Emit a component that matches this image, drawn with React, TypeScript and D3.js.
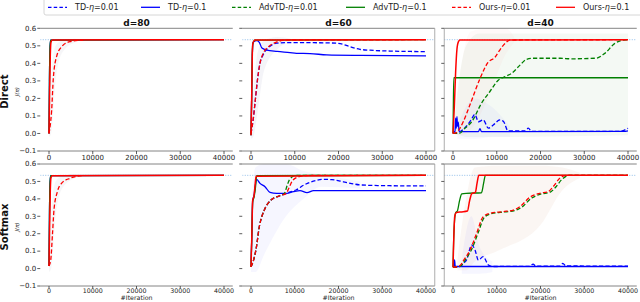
import React from 'react';
import * as d3 from 'd3';

type Pt = [number, number];
type Band = [number, number, number];

// ---------- data ----------
const xTicks = [0, 10000, 20000, 30000, 40000];
const yTicks = [-0.1, 0.0, 0.1, 0.2, 0.3, 0.4, 0.5, 0.6];
const titles = ['d=80', 'd=60', 'd=40'];
const rowLabels = ['Direct', 'Softmax'];
const optimum = 0.535;

// d=80, Direct
const d80DirTD01: Pt[] = [[0, 0.0], [100, 0.3], [250, 0.5], [400, 0.533], [40000, 0.535]];
const d80DirAdv01: Pt[] = [[0, 0.0], [100, 0.3], [250, 0.5], [400, 0.533], [40000, 0.535]];
const d80DirOurs001: Pt[] = [[0, 0.0], [300, 0.05], [600, 0.13], [1000, 0.32], [1750, 0.44], [2900, 0.495], [4800, 0.524], [7800, 0.533]];
const d80DirOurs01: Pt[] = [[0, 0.0], [150, 0.25], [300, 0.45], [450, 0.52], [700, 0.533], [40000, 0.535]];

// d=80, Softmax
const d80SoftTD01: Pt[] = [[0, 0.015], [100, 0.3], [250, 0.5], [400, 0.533], [40000, 0.535]];
const d80SoftAdv01: Pt[] = [[0, 0.015], [100, 0.3], [250, 0.5], [400, 0.533], [40000, 0.535]];
const d80SoftOurs001: Pt[] = [[0, 0.015], [400, 0.05], [800, 0.2], [1150, 0.34], [1900, 0.44], [2900, 0.49], [4800, 0.518], [7500, 0.533]];
const d80SoftOurs01: Pt[] = [[0, 0.015], [150, 0.25], [300, 0.45], [450, 0.52], [700, 0.533], [40000, 0.535]];

// d=60, Direct
const d60DirTD001: Pt[] = [[0, 0.0], [500, 0.08], [900, 0.17], [1450, 0.3], [2050, 0.4], [2800, 0.45], [4000, 0.49], [5900, 0.515], [8000, 0.518], [12000, 0.518], [17000, 0.517], [19600, 0.515], [21100, 0.508], [22600, 0.495], [24900, 0.48], [27200, 0.475], [32000, 0.47], [40000, 0.467]];
const d60DirTD01: Pt[] = [[0, -0.01], [150, 0.2], [300, 0.45], [500, 0.52], [1300, 0.53], [1900, 0.52], [2500, 0.487], [3600, 0.475], [6000, 0.468], [8900, 0.461], [10400, 0.457], [13500, 0.456], [17300, 0.448], [25000, 0.445], [40000, 0.443]];
const d60DirAdv01: Pt[] = [[0, -0.01], [150, 0.2], [300, 0.45], [400, 0.51], [900, 0.533], [40000, 0.535]];
const d60DirOurs001: Pt[] = [[0, 0.0], [500, 0.08], [900, 0.17], [1450, 0.3], [2050, 0.4], [2800, 0.457], [4000, 0.495], [5900, 0.522], [8000, 0.533], [40000, 0.535]];
const d60DirOurs01: Pt[] = [[0, -0.01], [150, 0.2], [300, 0.45], [400, 0.51], [900, 0.533], [40000, 0.535]];

// d=60, Softmax
const d60SoftTD001: Pt[] = [[0, 0.01], [600, 0.05], [1150, 0.11], [1900, 0.24], [3050, 0.336], [4570, 0.393], [6860, 0.42], [8000, 0.43], [9000, 0.44], [10300, 0.451], [12000, 0.478], [14900, 0.506], [16400, 0.512], [18500, 0.51], [21100, 0.498], [23000, 0.488], [25000, 0.48], [30000, 0.476], [40000, 0.474]];
const d60SoftTD01: Pt[] = [[0, 0.01], [200, 0.2], [380, 0.39], [700, 0.42], [1000, 0.48], [1300, 0.512], [2060, 0.489], [3200, 0.47], [4340, 0.437], [5870, 0.432], [8160, 0.432], [9680, 0.441], [11200, 0.447], [12800, 0.436], [14300, 0.447], [20000, 0.447], [40000, 0.447]];
const d60SoftAdv001: Pt[] = [[0, 0.01], [600, 0.05], [1150, 0.11], [1900, 0.24], [3050, 0.336], [4570, 0.393], [6500, 0.418], [7600, 0.43], [8300, 0.48], [8800, 0.51], [10300, 0.535], [40000, 0.535]];
const d60SoftAdv01: Pt[] = [[0, 0.01], [200, 0.2], [380, 0.38], [700, 0.41], [1000, 0.46], [1300, 0.533], [40000, 0.535]];
const d60SoftOurs001: Pt[] = [[0, 0.01], [600, 0.05], [1150, 0.11], [1900, 0.24], [3050, 0.336], [4570, 0.393], [6860, 0.42], [8000, 0.43], [8800, 0.47], [9500, 0.505], [11000, 0.527], [13300, 0.535], [40000, 0.535]];
const d60SoftOurs01: Pt[] = [[0, 0.01], [200, 0.2], [380, 0.39], [700, 0.42], [900, 0.47], [1150, 0.53], [40000, 0.535]];

// d=40, Direct
const d40DirTD001: Pt[] = [[0, 0.0], [1600, 0.01], [3000, 0.04], [4200, 0.08], [5000, 0.109], [5800, 0.067], [6900, 0.077], [8100, 0.03], [9200, 0.048], [10700, 0.077], [11500, 0.07], [12600, 0.014], [16500, 0.014], [17200, 0.03], [18000, 0.012], [38000, 0.012], [40000, 0.03]];
const d40DirTD01: Pt[] = [[0, 0.0], [300, 0.01], [460, 0.012], [600, 0.087], [750, 0.03], [900, 0.096], [1050, 0.04], [1200, 0.065], [1400, 0.012], [2000, 0.01], [5800, 0.01], [6170, 0.028], [6500, 0.01], [39000, 0.012], [40000, 0.015]];
const d40DirAdv001: Pt[] = [[0, 0.0], [1500, 0.0], [2500, 0.025], [4300, 0.067], [6500, 0.172], [8400, 0.238], [10400, 0.305], [11900, 0.324], [13400, 0.343], [15300, 0.39], [16800, 0.423], [18300, 0.429], [24500, 0.429], [27000, 0.426], [30000, 0.427], [32800, 0.43], [34700, 0.457], [37000, 0.514], [38900, 0.533], [40000, 0.535]];
const d40DirAdv01: Pt[] = [[0, 0.0], [100, 0.2], [200, 0.318], [40000, 0.318]];
const d40DirOurs001: Pt[] = [[0, 0.0], [800, 0.005], [1600, 0.03], [2400, 0.07], [3900, 0.165], [6200, 0.315], [8000, 0.405], [9600, 0.435], [10700, 0.476], [11900, 0.514], [13000, 0.533], [40000, 0.535]];
const d40DirOurs01: Pt[] = [[0, 0.0], [300, 0.15], [600, 0.35], [900, 0.48], [1250, 0.524], [1600, 0.533], [40000, 0.535]];

// d=40, Softmax
const d40SoftTD001: Pt[] = [[0, 0.007], [1500, 0.01], [2400, 0.03], [3100, 0.05], [4270, 0.135], [5030, 0.107], [5800, 0.049], [6900, 0.068], [8080, 0.021], [9000, 0.012], [17500, 0.013], [18300, 0.025], [19000, 0.014], [24500, 0.014], [25100, 0.03], [25800, 0.015], [40000, 0.014]];
const d40SoftTD01: Pt[] = [[0, 0.007], [200, 0.012], [350, 0.05], [500, 0.015], [800, 0.012], [40000, 0.012]];
const d40SoftAdv001: Pt[] = [[0, 0.007], [1800, 0.015], [2800, 0.05], [4200, 0.107], [5700, 0.202], [7200, 0.295], [8800, 0.315], [11800, 0.325], [14200, 0.333], [15700, 0.352], [18000, 0.405], [20200, 0.428], [22100, 0.437], [23400, 0.465], [24900, 0.512], [26600, 0.535], [40000, 0.535]];
const d40SoftAdv01: Pt[] = [[0, 0.007], [200, 0.2], [600, 0.32], [1000, 0.33], [1500, 0.39], [2000, 0.428], [3000, 0.432], [6500, 0.435], [7000, 0.49], [7400, 0.535], [40000, 0.535]];
const d40SoftOurs001: Pt[] = [[0, 0.007], [1500, 0.015], [2500, 0.05], [3900, 0.107], [5400, 0.202], [6900, 0.298], [8460, 0.317], [11500, 0.327], [13800, 0.336], [15300, 0.355], [17600, 0.41], [19800, 0.432], [21700, 0.441], [22900, 0.47], [24400, 0.518], [25900, 0.535], [40000, 0.535]];
const d40SoftOurs01: Pt[] = [[0, 0.007], [150, 0.15], [400, 0.3], [800, 0.322], [2000, 0.325], [3300, 0.33], [3800, 0.39], [4300, 0.43], [5100, 0.437], [5500, 0.49], [5900, 0.535], [40000, 0.535]];

// std shading [iteration, low, high]
const d80DirBand: Band[] = [[0, -0.02, 0.05], [500, 0.0, 0.3], [1500, 0.3, 0.5], [3000, 0.46, 0.53], [6000, 0.52, 0.54]];
const d80SoftBand: Band[] = [[0, -0.02, 0.06], [500, 0.0, 0.3], [1500, 0.3, 0.5], [3000, 0.46, 0.53], [6000, 0.52, 0.54]];
const d60DirBand: Band[] = [[0, -0.03, 0.05], [500, -0.02, 0.22], [1500, 0.12, 0.46], [3000, 0.36, 0.53], [6000, 0.48, 0.55], [9000, 0.52, 0.54]];
const d60SoftBand: Band[] = [[0, -0.02, 0.3], [1000, -0.02, 0.58], [3000, 0.08, 0.6], [8000, 0.3, 0.6], [12000, 0.4, 0.56], [16000, 0.47, 0.54], [25000, 0.46, 0.5]];
const d40DirGreenBand: Band[] = [[0, 0.0, 0.01], [1500, -0.01, 0.33], [3000, -0.02, 0.5], [6000, -0.02, 0.57], [40000, -0.01, 0.57]];
const d40DirRedBand: Band[] = [[500, -0.01, 0.1], [2000, -0.01, 0.4], [4000, 0.02, 0.58], [8000, 0.2, 0.6], [12000, 0.45, 0.6], [14000, 0.52, 0.55]];
const d40DirBlueBand: Band[] = [[1000, -0.03, 0.05], [5000, -0.03, 0.2], [9000, -0.02, 0.15], [13000, -0.02, 0.04]];
const d40SoftRedBand: Band[] = [[1000, -0.01, 0.05], [3000, -0.01, 0.4], [5000, 0.04, 0.58], [10000, 0.1, 0.59], [20000, 0.25, 0.59], [25000, 0.45, 0.58], [29000, 0.52, 0.55]];
const d40SoftBlueBand: Band[] = [[2000, -0.03, 0.05], [4200, -0.03, 0.3], [6000, -0.03, 0.13], [9000, -0.02, 0.04]];

// ---------- layout ----------
const W = 640;
const H = 302;
const colLeft = [40.25, 242.25, 444.25];
const colW = 192.5;
const rowTop = [28.3, 164];
const rowBottom = [151, 286];
const FONT = 'DejaVu Sans, sans-serif';

const seriesStyle: Record<string, { color: string; dashed: boolean; width: number }> = {
  td001: { color: '#0000ff', dashed: true, width: 1.3 },
  td01: { color: '#0000ff', dashed: false, width: 1.3 },
  adv001: { color: '#008000', dashed: true, width: 1.3 },
  adv01: { color: '#008000', dashed: false, width: 1.3 },
  ours001: { color: '#ff0000', dashed: true, width: 1.3 },
  ours01: { color: '#ff0000', dashed: false, width: 1.5 },
};
const order = ['td001', 'td01', 'adv001', 'adv01', 'ours001', 'ours01'];

const legendItems = [
  { key: 'td001', label: 'TD', eta: '0.01', x: 75 },
  { key: 'td01', label: 'TD', eta: '0.1', x: 168 },
  { key: 'adv001', label: 'AdvTD', eta: '0.01', x: 259 },
  { key: 'adv01', label: 'AdvTD', eta: '0.1', x: 373 },
  { key: 'ours001', label: 'Ours', eta: '0.01', x: 479 },
  { key: 'ours01', label: 'Ours', eta: '0.1', x: 583 },
];

type Panel = {
  row: number;
  col: number;
  lines: Record<string, Pt[] | undefined>;
  bands: { data: Band[]; color: string; opacity: number }[];
};

const panels: Panel[] = [
  { row: 0, col: 0, lines: { td01: d80DirTD01, adv01: d80DirAdv01, ours001: d80DirOurs001, ours01: d80DirOurs01 },
    bands: [{ data: d80DirBand, color: '#8080a0', opacity: 0.07 }] },
  { row: 1, col: 0, lines: { td01: d80SoftTD01, adv01: d80SoftAdv01, ours001: d80SoftOurs001, ours01: d80SoftOurs01 },
    bands: [{ data: d80SoftBand, color: '#8080a0', opacity: 0.07 }] },
  { row: 0, col: 1, lines: { td001: d60DirTD001, td01: d60DirTD01, adv01: d60DirAdv01, ours001: d60DirOurs001, ours01: d60DirOurs01 },
    bands: [{ data: d60DirBand, color: '#7070a0', opacity: 0.08 }] },
  { row: 1, col: 1, lines: { td001: d60SoftTD001, td01: d60SoftTD01, adv001: d60SoftAdv001, adv01: d60SoftAdv01, ours001: d60SoftOurs001, ours01: d60SoftOurs01 },
    bands: [{ data: d60SoftBand, color: '#6060ff', opacity: 0.06 }] },
  { row: 0, col: 2, lines: { td001: d40DirTD001, td01: d40DirTD01, adv001: d40DirAdv001, adv01: d40DirAdv01, ours001: d40DirOurs001, ours01: d40DirOurs01 },
    bands: [
      { data: d40DirGreenBand, color: '#40a040', opacity: 0.06 },
      { data: d40DirRedBand, color: '#ff6060', opacity: 0.04 },
      { data: d40DirBlueBand, color: '#6060ff', opacity: 0.05 },
    ] },
  { row: 1, col: 2, lines: { td001: d40SoftTD001, td01: d40SoftTD01, adv001: d40SoftAdv001, adv01: d40SoftAdv01, ours001: d40SoftOurs001, ours01: d40SoftOurs01 },
    bands: [
      { data: d40SoftRedBand, color: '#d09060', opacity: 0.08 },
      { data: d40SoftBlueBand, color: '#6060ff', opacity: 0.06 },
    ] },
];

const fmt = (v: number) => v.toFixed(1).replace('-', '\u2212');

const PanelView = ({ p, idx }: { p: Panel; idx: number }) => {
  const left = colLeft[p.col];
  const top = rowTop[p.row];
  const bottom = rowBottom[p.row];
  const x = d3.scaleLinear().domain([-2000, 42000]).range([left, left + colW]);
  const y = d3.scaleLinear().domain([-0.1, 0.6]).range([bottom, top]);
  const line = d3.line<Pt>().x(d => x(d[0])).y(d => y(d[1])).curve(d3.curveMonotoneX);
  const area = d3.area<Band>().x(d => x(d[0])).y0(d => y(d[1])).y1(d => y(d[2])).curve(d3.curveMonotoneX);
  const clipId = `clip-${idx}`;
  const bottomRow = p.row === 1;
  return (
    <g>
      <defs>
        <clipPath id={clipId}>
          <rect x={left} y={top} width={colW} height={bottom - top} />
        </clipPath>
      </defs>
      <g clipPath={`url(#${clipId})`}>
        {p.bands.map((b, i) => (
          <path key={i} d={area(b.data) || ''} fill={b.color} fillOpacity={b.opacity} stroke="none" />
        ))}
        <line x1={left} x2={left + colW} y1={y(optimum)} y2={y(optimum)}
          stroke="#87b8e8" strokeWidth={0.9} strokeDasharray="1,1.5" />
        {order.map(k => {
          const data = p.lines[k];
          if (!data) return null;
          const s = seriesStyle[k];
          return (
            <path key={k} d={line(data) || ''} fill="none" stroke={s.color} strokeWidth={s.width}
              strokeDasharray={s.dashed ? '4.2,2.2' : undefined} strokeLinejoin="round" />
          );
        })}
      </g>
      {/* spines */}
      <line x1={left} x2={left + colW} y1={top} y2={top} stroke="#777" strokeWidth={0.9} />
      <line x1={left} x2={left + colW} y1={bottom} y2={bottom} stroke="#777" strokeWidth={0.9} />
      {p.col === 1 && <line x1={left + colW} x2={left + colW} y1={top} y2={bottom} stroke="#999" strokeWidth={0.8} />}
      {p.col === 2 && <line x1={left} x2={left} y1={top} y2={bottom} stroke="#999" strokeWidth={0.8} />}
      {/* x ticks */}
      {xTicks.map(t => (
        <g key={t} transform={`translate(${x(t)},${bottom})`}>
          <line y1={0} y2={bottomRow ? 2.5 : 3} stroke="#333" strokeWidth={0.8} />
          <text y={bottomRow ? 7.2 : 9} textAnchor="middle" fontSize={bottomRow ? 6.3 : 7} fill="#222" fontFamily={FONT}>{t}</text>
        </g>
      ))}
      {/* y ticks */}
      {yTicks.map(t => (
        <g key={t} transform={`translate(${left},${y(t)})`}>
          <line x1={-3} x2={0} stroke="#333" strokeWidth={0.8} />
          {p.col === 0 && (
            <text x={-4} dy="0.32em" textAnchor="end" fontSize={7} fill="#222" fontFamily={FONT}>{fmt(t)}</text>
          )}
        </g>
      ))}
      {p.row === 0 && (
        <text x={left + colW / 2} y={top - 2.3} textAnchor="middle" fontSize={9} fontWeight="bold" fill="#111" fontFamily={FONT}>
          {titles[p.col]}
        </text>
      )}
      {bottomRow && (
        <text x={left + colW / 2} y={300.4} textAnchor="middle" fontSize={6.3} fill="#222" fontFamily={FONT}>#Iteration</text>
      )}
      {p.col === 0 && (
        <g>
          <text transform={`translate(7.6,${(top + bottom) / 2 + 2}) rotate(-90)`} textAnchor="middle"
            fontSize={10} fontWeight="bold" fill="#111" fontFamily={FONT}>{rowLabels[p.row]}</text>
          <text transform={`translate(19,${(top + bottom) / 2 + 2}) rotate(-90)`} textAnchor="middle"
            fontSize={5.5} fontStyle="italic" fill="#222" fontFamily={FONT}>J(π)</text>
        </g>
      )}
    </g>
  );
};

const App = () => {
  return (
    <svg width={W} height={H} style={{ position: 'absolute', left: 0, top: 0, background: '#fff' }}>
      <rect x={0} y={0} width={W} height={H} fill="#fff" />
      {panels.map((p, i) => <PanelView key={i} p={p} idx={i} />)}
      {/* legend */}
      <rect x={44} y={-3} width={610} height={18} rx={2} fill="#fff" stroke="#ccc" strokeWidth={0.8} />
      {legendItems.map(it => {
        const s = seriesStyle[it.key];
        return (
          <g key={it.key}>
            <line x1={it.x - 27} x2={it.x - 8} y1={7.3} y2={7.3} stroke={s.color} strokeWidth={1.3}
              strokeDasharray={s.dashed ? '3.5,2.2' : undefined} />
            <text x={it.x} y={10.2} fontSize={8} fill="#222" fontFamily={FONT}>
              {it.label}-<tspan fontStyle="italic">η</tspan>={it.eta}
            </text>
          </g>
        );
      })}
    </svg>
  );
};

export default App;
